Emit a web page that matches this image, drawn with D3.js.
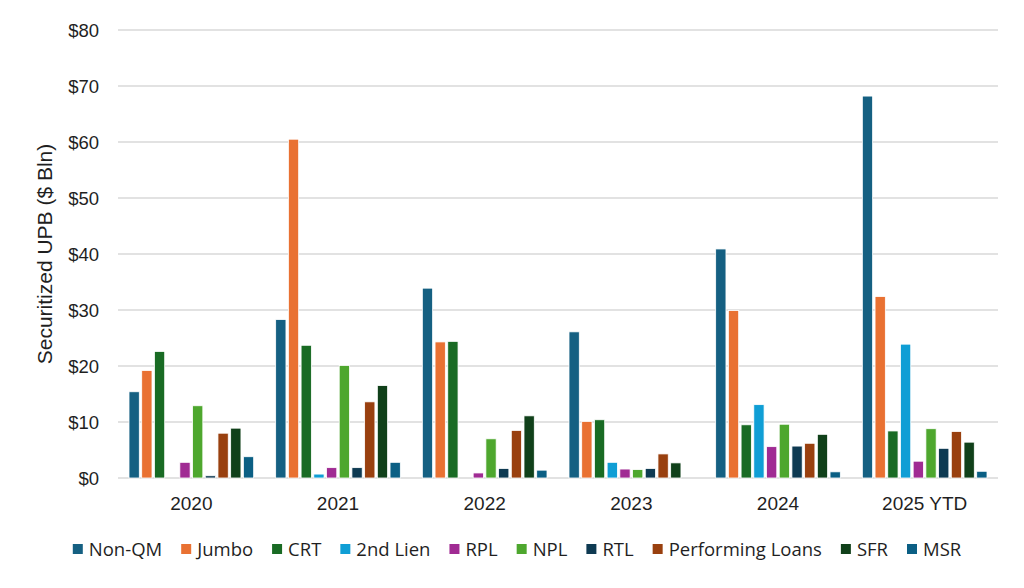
<!DOCTYPE html>
<html>
<head>
<meta charset="utf-8">
<script src="https://cdn.jsdelivr.net/npm/d3@7"></script>
<style>
  html, body { margin: 0; padding: 0; background: #ffffff; }
  svg { display: block; }
</style>
</head>
<body>
<svg id="chart" width="1024" height="588"></svg>
<script>
const categories = ["2020", "2021", "2022", "2023", "2024", "2025 YTD"];
const seriesNames = ["Non-QM", "Jumbo", "CRT", "2nd Lien", "RPL", "NPL", "RTL", "Performing Loans", "SFR", "MSR"];
const nonQM    = [15.4, 28.3, 33.9, 26.1, 40.9, 68.2];
const jumbo    = [19.2, 60.5, 24.3, 10.1, 29.9, 32.4];
const crt      = [22.6, 23.7, 24.4, 10.4, 9.5, 8.4];
const lien2    = [0, 0.7, 0, 2.8, 13.1, 23.9];
const rpl      = [2.8, 1.85, 0.9, 1.6, 5.6, 3.0];
const npl      = [12.9, 20.1, 7.0, 1.5, 9.6, 8.8];
const rtl      = [0.4, 1.85, 1.7, 1.7, 5.7, 5.3];
const perfLoans= [8.0, 13.6, 8.5, 4.3, 6.2, 8.3];
const sfr      = [8.9, 16.5, 11.1, 2.7, 7.8, 6.4];
const msr      = [3.8, 2.8, 1.4, 0, 1.1, 1.2];
const seriesValues = [nonQM, jumbo, crt, lien2, rpl, npl, rtl, perfLoans, sfr, msr];
const seriesColors = ["#156082", "#E97132", "#196B24", "#0F9ED5", "#A02B93", "#4EA72E", "#0E3A52", "#99400F", "#10401A", "#0B5F84"];
const yTicks = [0, 10, 20, 30, 40, 50, 60, 70, 80];
const yTitle = "Securitized UPB ($ Bln)";

(function () {
const svg = d3.select("#chart");
const pLeft = 118, pRight = 998, pTop = 30, pBottom = 478;

const x0 = d3.scaleBand().domain(categories).range([pLeft, pRight]).paddingInner(0.15).paddingOuter(0.075);
const x1 = d3.scaleBand().domain(seriesNames).range([0, x0.bandwidth()]).paddingInner(0.19).paddingOuter(0);
const y = d3.scaleLinear().domain([0, 80]).range([pBottom, pTop]);
const color = d3.scaleOrdinal().domain(seriesNames).range(seriesColors);

// gridlines
svg.append("g")
  .selectAll("line")
  .data(yTicks)
  .join("line")
  .attr("x1", pLeft).attr("x2", pRight)
  .attr("y1", d => y(d)).attr("y2", d => y(d))
  .attr("stroke", "#d9d9d9")
  .attr("stroke-width", 1.5);

// y axis labels
const yAxis = d3.axisLeft(y).tickValues(yTicks).tickFormat(d => "$" + d).tickSize(0).tickPadding(0);
const yg = svg.append("g").attr("transform", `translate(${99},0)`).call(yAxis);
yg.select(".domain").remove();
yg.selectAll("text")
  .attr("font-family", "'Liberation Sans', Arial, sans-serif")
  .attr("font-size", "18.5px")
  .attr("fill", "#1f1f1f")
  .attr("dy", "0.36em");

// y title
svg.append("text")
  .attr("transform", `translate(${52},${254}) rotate(-90)`)
  .attr("text-anchor", "middle")
  .attr("font-family", "'Liberation Sans', Arial, sans-serif")
  .attr("font-size", "21px")
  .attr("fill", "#1f1f1f")
  .text(yTitle);

// bars
const rows = categories.map((c, i) => ({ cat: c, vals: seriesNames.map((s, j) => ({ s, v: seriesValues[j][i] })) }));
svg.append("g")
  .selectAll("g")
  .data(rows)
  .join("g")
  .attr("transform", d => `translate(${x0(d.cat)},0)`)
  .selectAll("rect")
  .data(d => d.vals)
  .join("rect")
  .attr("x", d => x1(d.s))
  .attr("width", x1.bandwidth())
  .attr("y", d => y(d.v))
  .attr("height", d => y(0) - y(d.v))
  .attr("fill", d => color(d.s))
  .attr("stroke", d => d.v > 0 ? "#ffffff" : "none")
  .attr("stroke-width", 0.8);

// x axis
const xAxis = d3.axisBottom(x0).tickSize(0).tickPadding(0);
const xg = svg.append("g").attr("transform", `translate(0,${pBottom})`).call(xAxis);
xg.select(".domain").remove();
xg.selectAll("text")
  .attr("font-family", "'Liberation Sans', Arial, sans-serif")
  .attr("font-size", "19px")
  .attr("fill", "#1f1f1f")
  .attr("dy", "0")
  .attr("y", 32);

// legend
const legend = svg.append("g");
let cx = 0;
const gap = 19;
seriesNames.forEach((s, i) => {
  const g = legend.append("g");
  g.append("rect").attr("x", 0).attr("y", -5).attr("width", 10).attr("height", 10).attr("fill", seriesColors[i]);
  const t = g.append("text")
    .attr("x", 16).attr("y", 0).attr("dy", "0.36em")
    .attr("font-family", "'Open Sans', sans-serif")
    .attr("font-size", "18.5px")
    .attr("fill", "#1f1f1f")
    .text(s);
  const w = 16 + t.node().getComputedTextLength();
  g.attr("transform", `translate(${cx},0)`);
  cx += w + gap;
});
const totalW = cx - gap;
legend.attr("transform", `translate(${517 - totalW / 2},${549})`);
})();
</script>
</body>
</html>
